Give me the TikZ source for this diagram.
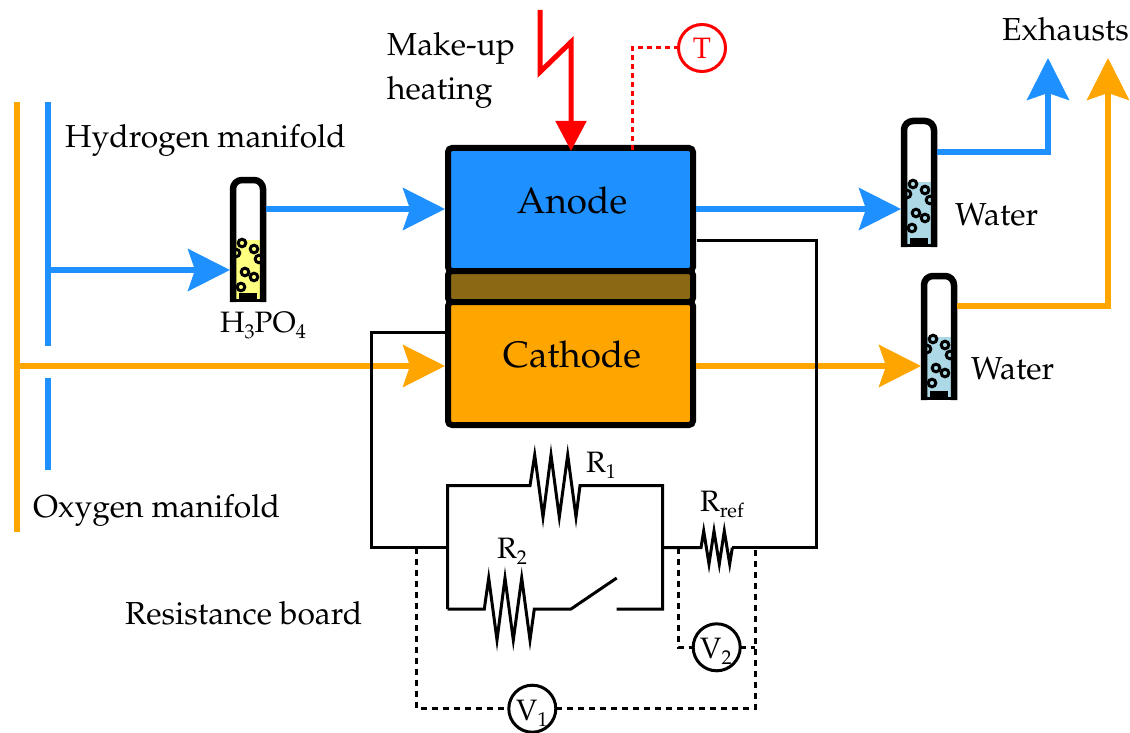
\documentclass[tikz,border=0pt]{standalone}
\usepackage[T1]{fontenc}
\usepackage{mathpazo}
\usetikzlibrary{arrows.meta}
\definecolor{hblue}{HTML}{1E90FF}
\definecolor{oorange}{HTML}{FFA500}
\definecolor{mbrown}{HTML}{8B6914}
\definecolor{wblue}{HTML}{ADD8E6}
\definecolor{acid}{HTML}{FFFF80}
\tikzset{
  x=1pt,y=-1pt,
  lab/.style={inner sep=0pt,anchor=base west,font=\fontsize{31.8}{38}\selectfont},
  clab/.style={inner sep=0pt,anchor=base,font=\fontsize{36.8}{44}\selectfont},
  sym/.style={inner sep=0pt,anchor=base west,font=\fontsize{29.5}{35}\selectfont},
  pipe/.style={line width=5.5pt,-{Stealth[length=42pt,width=42pt,inset=7pt]}},
  hpipe/.style={pipe,draw=hblue},
  hline/.style={line width=5.5pt,hblue},
  oline/.style={line width=5.5pt,oorange},
  cell/.style={draw=black,line width=6pt,rounded corners=4pt,inner sep=0pt,outer sep=0pt,minimum width=245pt},
  wire/.style={line width=3pt,black,line join=miter,miter limit=12},
  probe/.style={line width=3pt,black,dash pattern=on 6pt off 5pt},
  meter/.style={circle,draw=black,fill=white,line width=3pt,minimum size=47pt,inner sep=0pt,outer sep=0pt},
  tprobe/.style={line width=3pt,red,dash pattern=on 5pt off 4pt},
  bub/.style={line width=3pt,black,fill=none},
  tube/.style={inner sep=0pt,outer sep=0pt,minimum width=36pt},
}
\newcommand{\sbs}[1]{\raisebox{-0.22em}{\fontsize{20}{22}\selectfont #1}}
% x of left edge, y of top edge, total height, y of the liquid level, colour, name
\newcommand{\bubbler}[6]{%
  \begin{scope}[shift={(#1,#2)}]
    \fill[#5] (3,#4) rectangle (33,#3-2);
    \foreach \bx/\by in {12/66,6/76,24/72,29/82,15/95,24/100,11/110}
      \draw[bub] (\bx,\by) circle (3.8pt);
    \fill[black] (9,#3-9) rectangle (27,#3-2);
    \draw[line width=6.5pt,black,rounded corners=9pt] (3,#3) -- (3,3) -- (33,3) -- (33,#3);
    \draw[line width=3pt,black] (0,#3-1.5) -- (36,#3-1.5);
    \node[tube,minimum height=#3 pt,anchor=north west] (#6) at (0,0) {};
  \end{scope}}
\begin{document}
\begin{tikzpicture}
\useasboundingbox (0,0) rectangle (1130,733);
% levels
\coordinate (yH) at (0,209);
\coordinate (yHin) at (0,270);
\coordinate (yO) at (0,366);
\coordinate (yB) at (0,152);
\coordinate (yC) at (0,306);
\coordinate (xE1) at (1048,0);
\coordinate (xE2) at (1108,0);
\coordinate (tipE1) at (0,58);
\coordinate (tipE2) at (0,58);
% manifolds
\coordinate (oT) at (17,102);
\coordinate (oB) at (17,532);
\coordinate (hT) at (48,102);
\coordinate (hM) at (48,346);
\coordinate (hN) at (48,378);
\coordinate (hB) at (48,470);
\draw[oline] (oT) -- (oB);
\draw[hline] (hT) -- (hM);
\draw[hline] (hN) -- (hB);
% bubblers
\bubbler{230}{177}{125}{63}{acid}{b1}
\bubbler{901}{118}{129}{64}{wblue}{b2}
\bubbler{921}{273}{127}{64}{wblue}{b3}
% cell
\node[cell,fill=hblue,minimum height=123pt,anchor=north west] (anode) at (448,148) {};
\node[cell,fill=mbrown,minimum height=31pt,anchor=north west] (membrane) at (448,271) {};
\node[cell,fill=oorange,minimum height=123pt,anchor=north west] (cathode) at (448,302) {};
% flows
\draw[hpipe] (hM |- yHin) -- (b1.west |- yHin);
\draw[hpipe] (b1.east |- yH) -- ([xshift=-3pt]anode.west |- yH);
\draw[hpipe] ([xshift=3pt]anode.east |- yH) -- (b2.west |- yH);
\draw[hpipe,line join=miter] (b2.east |- yB) -- (xE1 |- yB) -- (xE1 |- tipE1);
\draw[pipe,oorange] (oT |- yO) -- ([xshift=-3pt]cathode.west |- yO);
\draw[pipe,oorange] ([xshift=3pt]cathode.east |- yO) -- (b3.west |- yO);
\draw[pipe,oorange,line join=miter] (b3.east |- yC) -- (xE2 |- yC) -- (xE2 |- tipE2);
% heating
\coordinate (h0) at (540,10);
\coordinate (h1) at (540,72);
\coordinate (h2) at (571,42);
\draw[line width=5pt,red,line join=miter,line cap=butt,-{Triangle[length=30pt,width=30pt]}] (h0) -- (h1) -- (h2) -- ([yshift=-3pt]h2 |- anode.north);
% temperature
\node[circle,draw=red,line width=3pt,minimum size=47pt,inner sep=0pt,outer sep=0pt,text=red,font=\fontsize{29.5}{35}\selectfont] (T) at (702,48) {T};
\coordinate (tx) at (632,0);
\draw[tprobe] (T.west) -- (tx |- T.west) -- ([yshift=-3pt]tx |- anode.north);
% circuit junctions
\coordinate (aW) at (697,240);
\coordinate (cW) at (445,332);
\coordinate (wR) at (816,240);
\coordinate (wL) at (371,332);
\coordinate (mL) at (371,547.7);
\coordinate (pL) at (447.7,547.7);
\coordinate (pR) at (662.7,547.7);
\coordinate (mR) at (816,547.7);
\coordinate (pTL) at (447.7,485.7);
\coordinate (pTR) at (662.7,485.7);
\coordinate (pBL) at (447.7,609);
\coordinate (pBR) at (662.7,609);
\coordinate (rA) at (701,547.7);
\coordinate (rB) at (732.3,547.7);
\draw[wire] (aW) -- (wR) -- (mR) -- (rB);
\draw[wire] (cW) -- (wL) -- (mL) -- (pL);
\draw[wire] (pR) -- (rA) -- (703.7,531) -- (709,564) -- (714,531) -- (719.3,564) -- (724.3,531) -- (729.7,564) -- (rB);
\draw[wire] (pBL) -- (pTL) -- (530,485.7) -- (534.7,455) -- (543,517) -- (551,455) -- (559.3,517) -- (567.7,455) -- (576,517) -- (580,485.7) -- (pTR) -- (pBR) -- (616.7,609);
\draw[wire] (pBL) -- (484.3,609) -- (488.7,578) -- (497,640) -- (505,578) -- (513.3,640) -- (521.7,578) -- (530,640) -- (534.3,609) -- (571,609) -- (616.7,578);
% meters
\node[meter] (V1) at (532.3,708.7) {};
\node[meter] (V2) at (716.7,647.3) {};
\node[sym] at (516,720) {V\sbs{1}};
\node[sym] at (700,658) {V\sbs{2}};
\coordinate (d1) at (416.7,547.7);
\coordinate (d2) at (755,547.7);
\coordinate (d3) at (678.3,547.7);
\draw[probe] (d1) -- (d1 |- V1.west) -- (V1.west);
\draw[probe] (V1.east) -- (d2 |- V1.east) -- (d2);
\draw[probe] (d3) -- (d3 |- V2.west) -- (V2.west);
\draw[probe] (V2.east) -- (d2 |- V2.east);
% labels
\node[clab] at (572,213) {Anode};
\node[clab] at (572,367) {Cathode};
\node[lab] at (387,56) {Make-up};
\node[lab] at (387,100) {heating};
\node[lab] at (65,148) {Hydrogen manifold};
\node[lab] at (33,517) {Oxygen manifold};
\node[lab] at (1002,41) {Exhausts};
\node[lab] at (955,225) {Water};
\node[lab] at (971,379) {Water};
\node[lab] at (125,624) {Resistance board};
\node[sym] at (220,332) {H\sbs{3}PO\sbs{4}};
\node[sym] at (586,472) {R\sbs{1}};
\node[sym] at (497,558) {R\sbs{2}};
\node[sym] at (700,511) {R\sbs{ref}};
\end{tikzpicture}
\end{document}
